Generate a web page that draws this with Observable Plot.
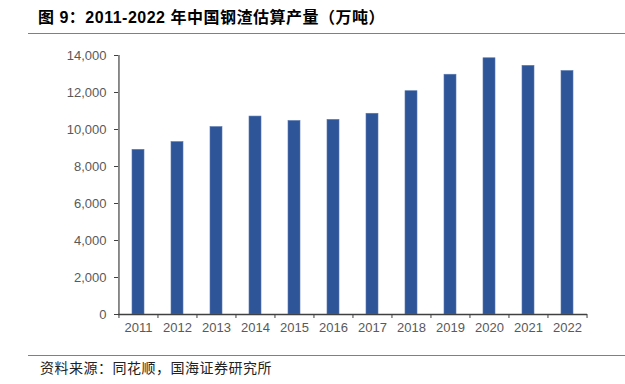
<!DOCTYPE html>
<html><head><meta charset="utf-8">
<script src="https://cdn.jsdelivr.net/npm/d3@7"></script>
<script src="https://cdn.jsdelivr.net/npm/@observablehq/plot@0.6"></script>
<style>
body{margin:0;background:#fff;width:625px;height:384px;overflow:hidden;position:relative;font-family:"Liberation Sans",Arial,"Noto Sans CJK SC",sans-serif;}
#title{position:absolute;left:38px;top:9px;font-size:16px;line-height:17px;font-weight:bold;color:#000;font-family:"Liberation Sans",Arial,"Noto Sans CJK SC",sans-serif;letter-spacing:0.5px;white-space:nowrap}
#tline{position:absolute;left:28px;right:0;top:33px;height:0;border-top:1.5px solid #808080}
#chart{position:absolute;left:0;top:40px}
#cline{position:absolute;left:28px;right:0;top:355px;height:0;border-top:1px solid #808080}
#caption{position:absolute;left:40px;top:359px;font-size:14px;line-height:16px;letter-spacing:0.5px;color:#222;font-family:"Noto Sans CJK SC",sans-serif;white-space:nowrap}
</style></head>
<body>
<div id="title">图 9：2011-2022 年中国钢渣估算产量（万吨）</div>
<div id="tline"></div>
<div id="chart"></div>
<div id="cline"></div>
<div id="caption">资料来源：同花顺，国海证券研究所</div>
<script>
const years = ["2011","2012","2013","2014","2015","2016","2017","2018","2019","2020","2021","2022"];
const output = [8900, 9320, 10130, 10700, 10460, 10520, 10850, 12070, 12960, 13850, 13440, 13160];
const yTicks = [0, 2000, 4000, 6000, 8000, 10000, 12000, 14000];

const data = years.map((y, i) => ({year: y, value: output[i]}));
const W = 625, H = 304, mL = 118, mR = 38, mT = 15, mB = 30;
const step = (W - mL - mR) / years.length;
const axisColor = "#404040";
const labelColor = "#595959";

const chart = Plot.plot({
  width: W, height: H,
  marginLeft: mL, marginRight: mR, marginTop: mT, marginBottom: mB,
  style: {fontFamily: "'Liberation Sans', Arial, sans-serif", fontSize: "13px", color: labelColor, background: "#fff"},
  x: {domain: years, paddingInner: 0.69, paddingOuter: 0.345, align: 0.5, axis: null, label: null},
  y: {domain: [0, 14000], axis: null, label: null},
  marks: [
    Plot.barY(data, {x: "year", y: "value", fill: "#2E5597", stroke: "#5A78B0", strokeWidth: 0.6}),
    Plot.axisY({ticks: yTicks, tickSize: 4, tickPadding: 8, stroke: axisColor, fill: labelColor, label: null, tickFormat: d3.format(",")}),
    Plot.ruleX([years[0]], {dx: -step / 2, y1: 0, y2: 14000, stroke: axisColor, strokeWidth: 1.2}),
    Plot.ruleY([0], {stroke: axisColor, strokeWidth: 1.5}),
    Plot.axisX({ticks: years, tickSize: 0, tickPadding: 8, fill: labelColor, label: null}),
    Plot.axisX({ticks: years, tickSize: 4, dx: -step / 2, tickFormat: () => "", stroke: axisColor, label: null}),
    Plot.axisX({ticks: [years[years.length - 1]], tickSize: 4, dx: step / 2, tickFormat: () => "", stroke: axisColor, label: null})
  ]
});
document.getElementById("chart").appendChild(chart);
</script>
</body></html>
